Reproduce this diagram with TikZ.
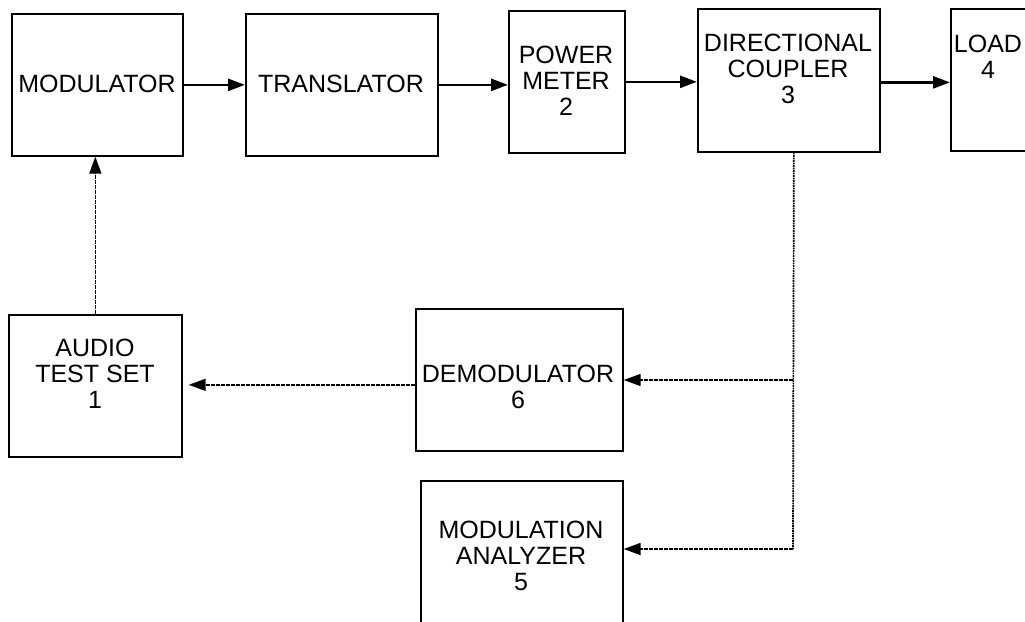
\documentclass[tikz,border=0pt]{standalone}
\usepackage{fontspec}
\setmainfont{Liberation Sans}
\usetikzlibrary{arrows.meta}
\begin{document}
\begin{tikzpicture}[x=1pt,y=-1pt,
  box/.style={draw, line width=1.7pt, inner sep=0pt, anchor=north west},
  lbl/.style={align=center, inner sep=0pt, font=\fontsize{25}{26}\selectfont},
  flow/.style={line width=2.6pt, -{Triangle[length=17pt,width=12pt]}},
  sig/.style={line width=1.7pt, dash pattern=on 1.6pt off 0.9pt, -{Triangle[length=17pt,width=12pt]}},
  sigline/.style={line width=1.7pt, dash pattern=on 1.6pt off 0.9pt}]
\useasboundingbox (0,0) rectangle (1025,621);
\clip (0,0) rectangle (1025,621);
% boxes
\node[box, minimum width=171pt, minimum height=142pt] (mod) at (11,13) {};
\node[box, minimum width=192pt, minimum height=142pt] (trans) at (245,13) {};
\node[box, minimum width=116pt, minimum height=142pt] (pm) at (508,10) {};
\node[box, minimum width=182pt, minimum height=143pt] (dc) at (697,8) {};
\node[box, minimum width=100pt, minimum height=142pt] (load) at (950,8) {};
\node[box, minimum width=173pt, minimum height=142pt] (audio) at (8,314) {};
\node[box, minimum width=207pt, minimum height=142pt] (demod) at (415,308) {};
\node[box, minimum width=202pt, minimum height=160pt] (ma) at (420,480) {};
% labels
\node[lbl] (tmod) at (97,84) {MODULATOR};
\node[lbl] (ttrans) at (341,84) {TRANSLATOR};
\node[lbl] (tpm) at (566,81) {POWER\\METER\\2};
\node[lbl] (tdc) at (788,69) {DIRECTIONAL\\COUPLER\\3};
\node[lbl] (tload) at (988,57) {LOAD\\4};
\node[lbl] (taudio) at (95,374) {AUDIO\\TEST SET\\1};
\node[lbl] (tdemod) at (518,387) {DEMODULATOR\\6};
\node[lbl] (tma) at (521,556) {MODULATION\\ANALYZER\\5};
% connectors
\draw[flow] (mod.east) -- (trans.west);
\draw[flow] (trans.east) -- (trans.east -| pm.west);
\draw[flow] (pm.east) -- (pm.east -| dc.west);
\draw[flow] ([yshift=-2pt]dc.east) -- ([yshift=-2pt]dc.east -| load.west);
\draw[sig] (audio.north) -- (audio.north |- mod.south);
\coordinate (c1) at (793,380);
\coordinate (c2) at (793,549);
\draw[sigline] ([xshift=5pt]dc.south) -- (c2);
\draw[sig] (c1) -- (c1 -| demod.east);
\draw[sig] (c2) -- (c2 -| ma.east);
\draw[sig, shorten >=6pt] ([yshift=-5pt]demod.west) -- ([yshift=-5pt]demod.west -| audio.east);
\end{tikzpicture}
\end{document}
